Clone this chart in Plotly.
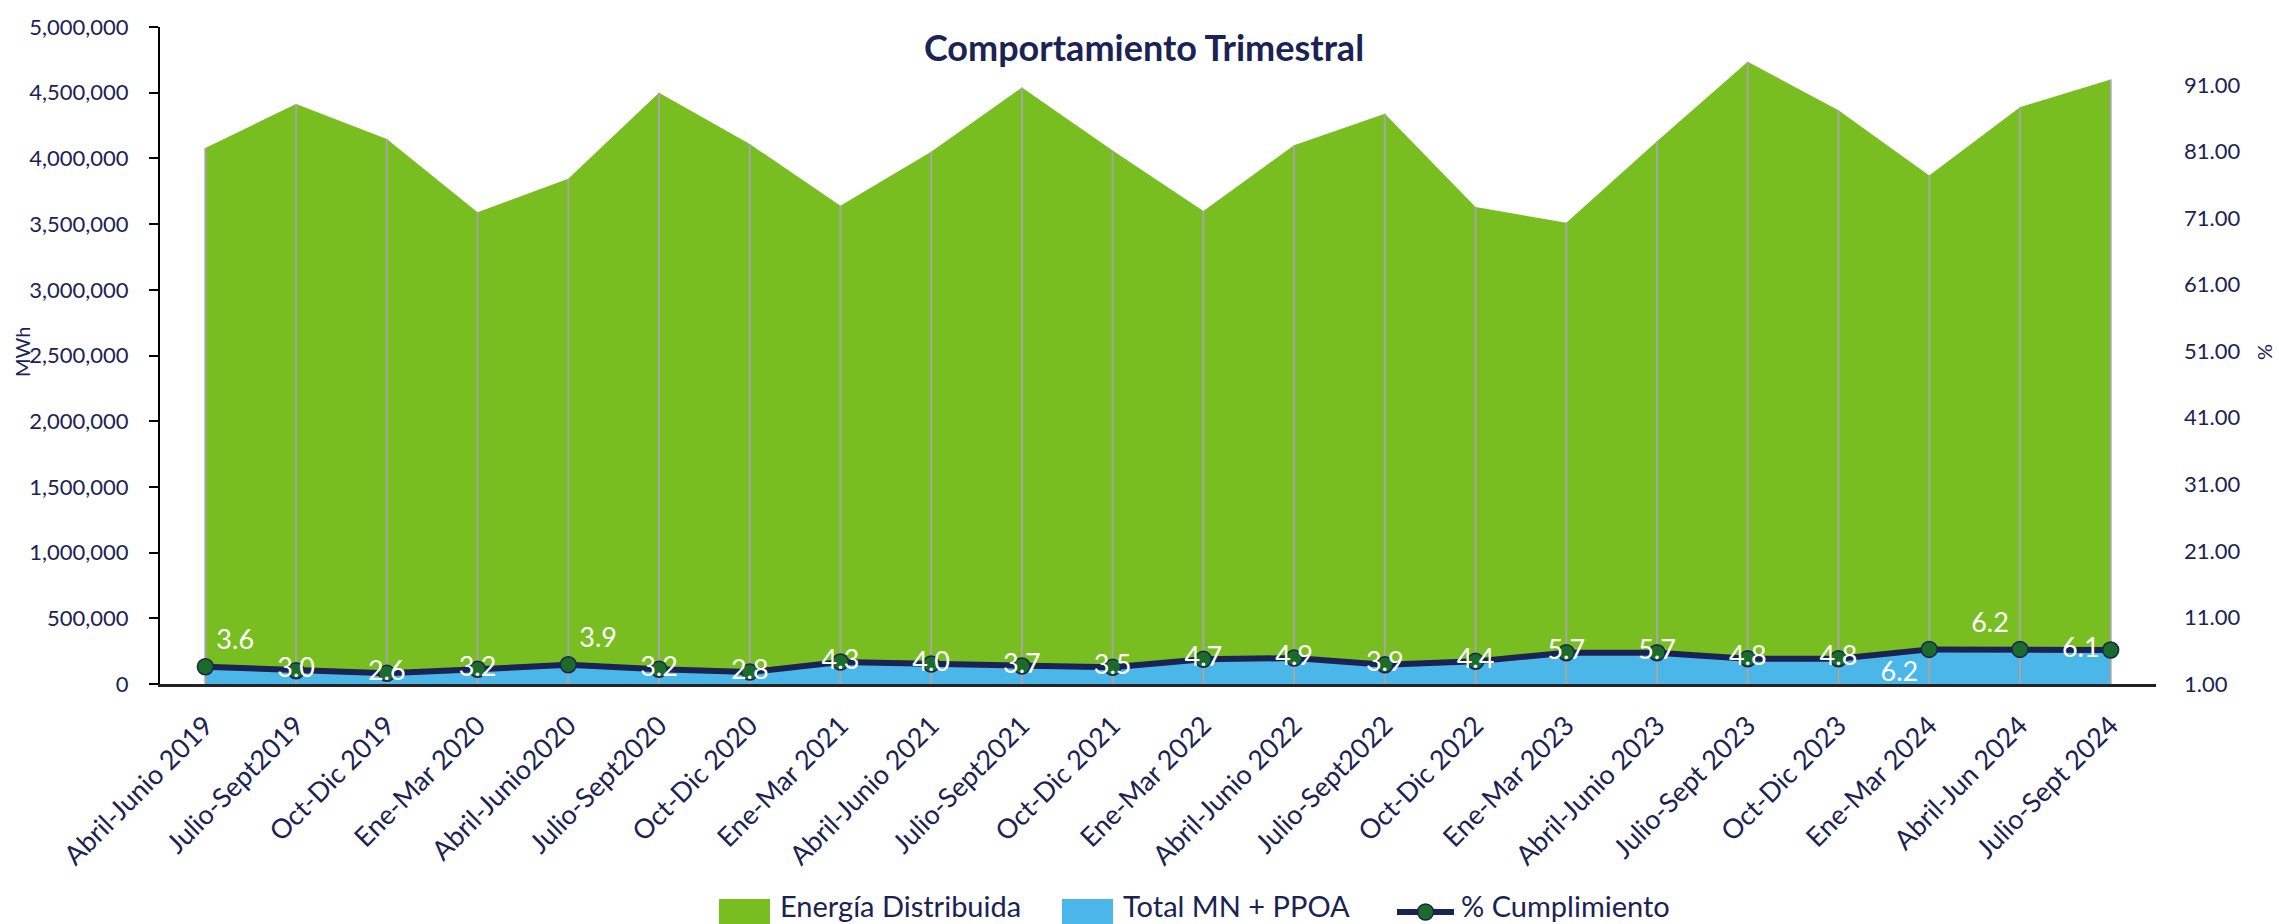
import plotly.graph_objects as go

# ---------------- data ----------------
categories = [
    "Abril-Junio 2019", "Julio-Sept2019", "Oct-Dic 2019", "Ene-Mar 2020",
    "Abril-Junio2020", "Julio-Sept2020", "Oct-Dic 2020", "Ene-Mar 2021",
    "Abril-Junio 2021", "Julio-Sept2021", "Oct-Dic 2021", "Ene-Mar 2022",
    "Abril-Junio 2022", "Julio-Sept2022", "Oct-Dic 2022", "Ene-Mar 2023",
    "Abril-Junio 2023", "Julio-Sept 2023", "Oct-Dic 2023", "Ene-Mar 2024",
    "Abril-Jun 2024", "Julio-Sept 2024",
]
energia_distribuida = [
    4080000, 4414000, 4148000, 3590000, 3846000, 4500000, 4110000, 3640000,
    4050000, 4540000, 4060000, 3600000, 4100000, 4340000, 3630000, 3510000,
    4130000, 4735000, 4366000, 3870000, 4390000, 4600000,
]
total_mn_ppoa = [
    113000, 84000, 63000, 93000, 128000, 93000, 72000, 148000,
    134000, 118000, 108000, 167000, 178000, 128000, 152000, 218000,
    219000, 175000, 174000, 243000, 244000, 238000,
]
pct_cumplimiento = [
    3.6, 3.0, 2.6, 3.2, 3.9, 3.2, 2.8, 4.3, 4.0, 3.7, 3.5,
    4.7, 4.9, 3.9, 4.4, 5.7, 5.7, 4.8, 4.8, 6.2, 6.2, 6.1,
]
left_ticks = list(range(0, 5000001, 500000))
right_ticks = [1, 11, 21, 31, 41, 51, 61, 71, 81, 91]

# label placement (style)
label_positions = ["middle center"] * len(categories)
label_positions[0] = "top right"
label_positions[4] = "top right"
label_positions[19] = "bottom left"
label_positions[20] = "top left"
label_positions[21] = "middle left"

# ---------------- style ----------------
W, H = 2279, 924
ML, MR, MT, MB = 160, 123, 27, 240
PW, PH = W - ML - MR, H - MT - MB
NAVY = "#1B2354"
GREEN = "#78BE20"
BLUE = "#4BB6E8"
FONT = "Lato"


def px_x(px):
    return (px - ML) / PW


def px_y(py):
    return (H - MB - py) / PH


fig = go.Figure()

fig.add_trace(go.Scatter(
    x=categories, y=energia_distribuida, name="Energía Distribuida",
    mode="lines", line=dict(width=0, color=GREEN), fill="tozeroy",
    fillcolor=GREEN, showlegend=False, hoverinfo="skip",
))
fig.add_trace(go.Scatter(
    x=categories, y=total_mn_ppoa, name="Total MN + PPOA",
    mode="lines", line=dict(width=0, color=BLUE), fill="tozeroy",
    fillcolor=BLUE, showlegend=False, hoverinfo="skip",
))

# drop lines from base to the top of the green area
dx, dy = [], []
for c, v in zip(categories, energia_distribuida):
    dx += [c, c, None]
    dy += [0, v, None]
fig.add_trace(go.Scatter(
    x=dx, y=dy, mode="lines", line=dict(color="#A6A6A6", width=2),
    showlegend=False, hoverinfo="skip",
))

fig.add_trace(go.Scatter(
    x=categories, y=pct_cumplimiento, name="% Cumplimiento", yaxis="y2",
    mode="lines+markers+text",
    line=dict(color=NAVY, width=6),
    marker=dict(size=16, color="#1B6B2A", line=dict(color=NAVY, width=1.5)),
    text=[f"{v:.1f}" for v in pct_cumplimiento],
    textposition=label_positions,
    textfont=dict(family=FONT, size=27, color="white"),
    showlegend=False, cliponaxis=False,
))

fig.update_layout(
    width=W, height=H,
    margin=dict(l=ML, r=MR, t=MT, b=MB),
    paper_bgcolor="white", plot_bgcolor="white",
    font=dict(family=FONT, color=NAVY),
    showlegend=False,
    title=dict(
        text="<b>Comportamiento Trimestral</b>",
        font=dict(family=FONT, size=36, color=NAVY),
        x=px_x(1144), xref="paper", xanchor="center",
        y=1 - 48 / H, yref="container", yanchor="middle",
    ),
    xaxis=dict(
        type="category", range=[-0.5, len(categories) - 0.5],
        showline=True, linecolor="#222222", linewidth=3,
        showgrid=False, ticks="", tickangle=-45,
        tickfont=dict(family=FONT, size=27, color=NAVY),
        ticklabelstandoff=12, zeroline=False,
    ),
    yaxis=dict(
        range=[0, 5000000], tickvals=left_ticks, tickformat=",",
        showline=True, linecolor="black", linewidth=2,
        ticks="outside", ticklen=9, tickwidth=2, tickcolor="black",
        showgrid=False, zeroline=False,
        tickfont=dict(family=FONT, size=22, color=NAVY),
        ticklabelstandoff=16,
    ),
    yaxis2=dict(
        overlaying="y", side="right", range=[1, 99.7],
        tickvals=right_ticks, tickformat=".2f",
        showline=False, showgrid=False, zeroline=False, ticks="",
        tickfont=dict(family=FONT, size=22, color=NAVY),
        ticklabelstandoff=27,
    ),
    yaxis3=dict(
        overlaying="y", side="left", anchor="x", range=[0, 5000000],
        tickvals=left_ticks, showticklabels=False, ticks="inside",
        ticklen=9, tickwidth=2, tickcolor="black", showline=False,
        showgrid=False, zeroline=False,
    ),
)

annotations = [
    dict(text="MWh", x=px_x(22), y=px_y(352), xref="paper", yref="paper",
         textangle=-90, showarrow=False, font=dict(size=20, color=NAVY),
         xanchor="center", yanchor="middle"),
    dict(text="%", x=px_x(2264), y=px_y(352), xref="paper", yref="paper",
         textangle=-90, showarrow=False, font=dict(size=20, color=NAVY),
         xanchor="center", yanchor="middle"),
]

# custom legend
shapes = []
legend_items = [
    ("box", GREEN, 719, 770, "Energía Distribuida", 778),
    ("box", BLUE, 1062, 1113, "Total MN + PPOA", 1121),
    ("line", NAVY, 1397, 1454, "% Cumplimiento", 1459),
]
for kind, col, x0, x1, label, tx in legend_items:
    if kind == "box":
        shapes.append(dict(type="rect", xref="paper", yref="paper",
                           x0=px_x(x0), x1=px_x(x1), y0=px_y(930), y1=px_y(899),
                           fillcolor=col, line=dict(width=0)))
    else:
        shapes.append(dict(type="line", xref="paper", yref="paper",
                           x0=px_x(x0), x1=px_x(x1), y0=px_y(912), y1=px_y(912),
                           line=dict(color=col, width=6)))
        cx = (x0 + x1) / 2
        shapes.append(dict(type="circle", xref="paper", yref="paper",
                           x0=px_x(cx - 8), x1=px_x(cx + 8),
                           y0=px_y(920), y1=px_y(904),
                           fillcolor="#1B6B2A", line=dict(color=NAVY, width=1.5)))
    annotations.append(dict(text=label, x=px_x(tx), y=px_y(905), xref="paper",
                            yref="paper", showarrow=False, xanchor="left",
                            yanchor="middle",
                            font=dict(family=FONT, size=29, color=NAVY)))

fig.update_layout(annotations=annotations, shapes=shapes)

fig.write_html(
    "out.html",
    config={"displayModeBar": False},
    post_script="document.body.style.margin='0px';"
                "document.body.style.overflow='hidden';",
)
